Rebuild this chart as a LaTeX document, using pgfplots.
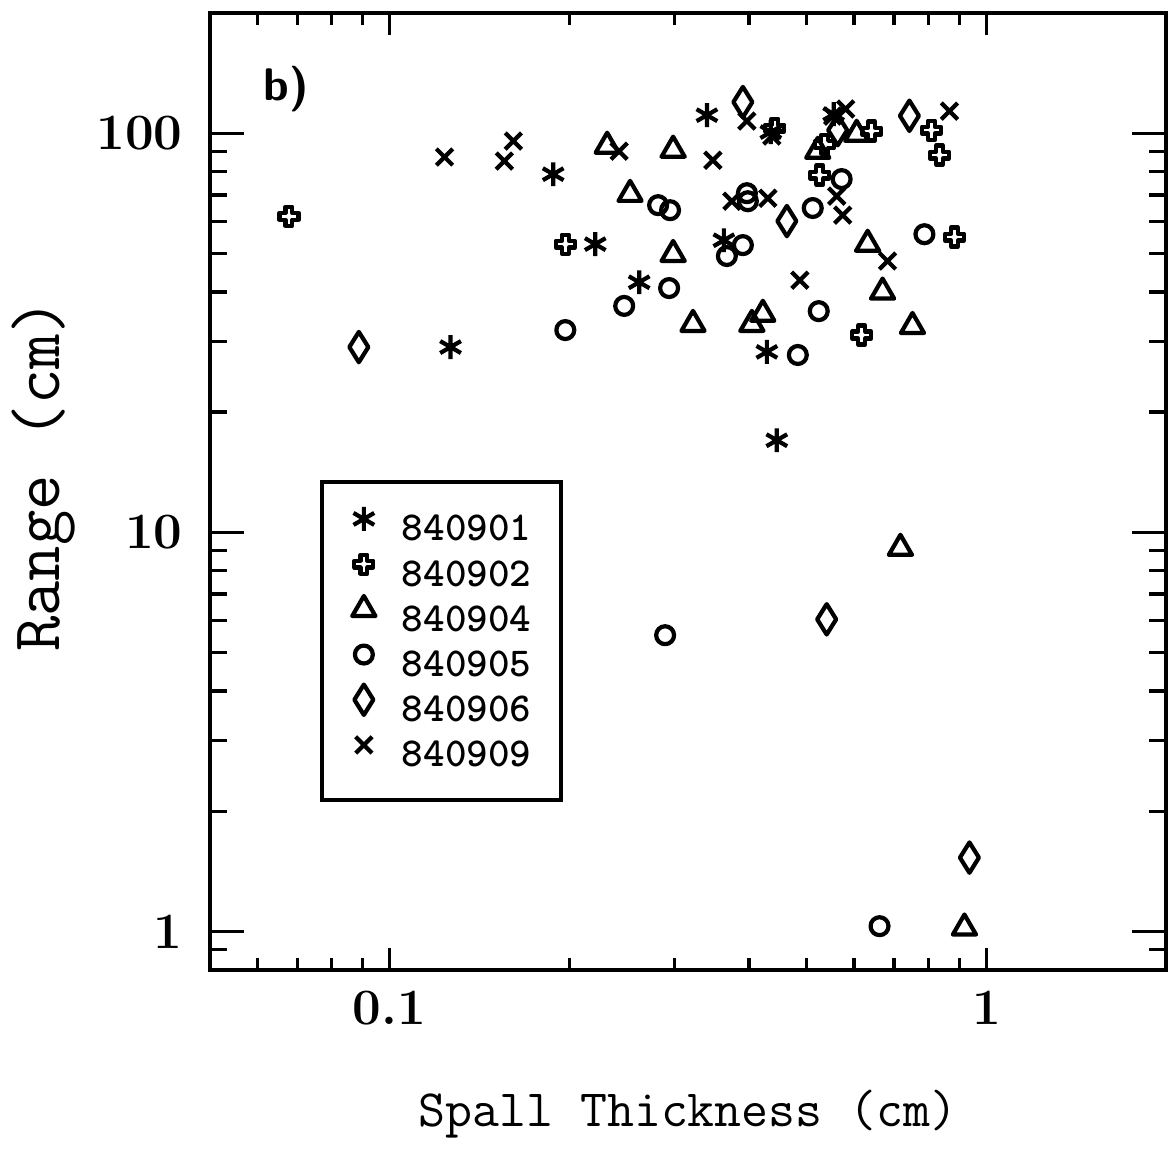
\documentclass[border=0pt]{standalone}
\usepackage{pgfplots}
\pgfplotsset{compat=1.18}

\pgfdeclareplotmark{pluso}{%
  \pgfpathmoveto{\pgfqpoint{0.36\pgfplotmarksize}{\pgfplotmarksize}}%
  \pgfpathlineto{\pgfqpoint{-0.36\pgfplotmarksize}{\pgfplotmarksize}}%
  \pgfpathlineto{\pgfqpoint{-0.36\pgfplotmarksize}{0.36\pgfplotmarksize}}%
  \pgfpathlineto{\pgfqpoint{-\pgfplotmarksize}{0.36\pgfplotmarksize}}%
  \pgfpathlineto{\pgfqpoint{-\pgfplotmarksize}{-0.36\pgfplotmarksize}}%
  \pgfpathlineto{\pgfqpoint{-0.36\pgfplotmarksize}{-0.36\pgfplotmarksize}}%
  \pgfpathlineto{\pgfqpoint{-0.36\pgfplotmarksize}{-\pgfplotmarksize}}%
  \pgfpathlineto{\pgfqpoint{0.36\pgfplotmarksize}{-\pgfplotmarksize}}%
  \pgfpathlineto{\pgfqpoint{0.36\pgfplotmarksize}{-0.36\pgfplotmarksize}}%
  \pgfpathlineto{\pgfqpoint{\pgfplotmarksize}{-0.36\pgfplotmarksize}}%
  \pgfpathlineto{\pgfqpoint{\pgfplotmarksize}{0.36\pgfplotmarksize}}%
  \pgfpathlineto{\pgfqpoint{0.36\pgfplotmarksize}{0.36\pgfplotmarksize}}%
  \pgfpathclose
  \pgfusepathqstroke}
\pgfdeclareplotmark{tdiamond}{%
  \pgfpathmoveto{\pgfqpoint{0pt}{1.6\pgfplotmarksize}}%
  \pgfpathlineto{\pgfqpoint{\pgfplotmarksize}{0pt}}%
  \pgfpathlineto{\pgfqpoint{0pt}{-1.6\pgfplotmarksize}}%
  \pgfpathlineto{\pgfqpoint{-\pgfplotmarksize}{0pt}}%
  \pgfpathclose
  \pgfusepathqstroke}

\pgfplotsset{mylegimg/.style={legend image code/.code={%
  \draw[overlay,mark repeat=2,mark phase=2,##1] plot coordinates {(0cm,0.1cm) (0.12cm,0.1cm) (0.24cm,0.1cm)};
  \path[draw=none,fill=none] (0cm,0cm) rectangle (0.24cm,0.2cm);}}}

\begin{document}
\begin{tikzpicture}
\begin{axis}[
  scale only axis, width=9.56cm, height=9.57cm,
  xmode=log, ymode=log,
  xmin=0.05, xmax=2, ymin=0.8, ymax=200,
  xtick={0.1,1}, xticklabels={0.1,1},
  ytick={1,10,100}, yticklabels={1,10,100},
  minor xtick={0.06,0.07,0.08,0.09,0.2,0.3,0.4,0.5,0.6,0.7,0.8,0.9},
  minor ytick={0.9,2,3,4,5,6,7,8,9,20,30,40,50,60,70,80,90},
  axis line style={line width=1pt},
  every tick/.style={black, line width=0.9pt},
  xtick style={/pgfplots/major tick length=0.22cm,/pgfplots/minor tick length=0.12cm},
  ytick style={/pgfplots/major tick length=0.34cm,/pgfplots/minor tick length=0.17cm},
  tick label style={font=\bfseries\fontsize{14.5}{16}\selectfont},
  xticklabel style={yshift=-0.09cm},
  yticklabel style={xshift=-0.15cm},
  xlabel={Spall Thickness (cm)}, ylabel={Range (cm)},
  xlabel style={at={(axis description cs:0.5,-0.164)}, anchor=base, font=\ttfamily\fontsize{14.9}{18}\selectfont},
  ylabel style={at={(axis description cs:-0.157,0.517)}, anchor=base, font=\ttfamily\fontsize{19.5}{22}\selectfont},
  clip=false,
  mylegimg,
  legend cell align=left,
  legend style={at={(0.115,0.512)}, anchor=north west, draw=black, line width=1.1pt,
    inner xsep=0.3cm, inner ysep=0.27cm, row sep=0.072cm,
    /tikz/every odd column/.append style={column sep=0.26cm},
    font=\ttfamily\bfseries\fontsize{11.7}{13}\selectfont,
    nodes={inner sep=0pt, text height=0.3cm, text depth=0.06cm}},
  mark options={line join=round},
]
% 840901
\addplot[black, only marks, mark=asterisk, mark size=3.4pt, line width=1.2pt, mylegimg] coordinates {
(0.3402,110.9) (0.1880,78.9) (0.2211,52.7) (0.1265,29.1) (0.2619,42.3)
(0.3632,53.9) (0.4287,28.3) (0.4455,17.0) (0.5547,111.6) (0.4353,100.6)
};
\addlegendentry{840901}
% 840902
\addplot[black, only marks, mark=pluso, mark size=2.7pt, line width=1.2pt, mylegimg] coordinates {
(0.0678,61.9) (0.1970,52.7) (0.4421,102.9) (0.5359,93.8) (0.5257,78.5)
(0.6422,101.2) (0.8091,101.7) (0.8344,88.1) (0.8841,54.9) (0.6180,31.2)
};
\addlegendentry{840902}
% 840904
\addplot[black, only marks, mark=triangle, mark size=3.8pt, line width=1.2pt, mylegimg] coordinates {
(0.2315,92.8) (0.2986,90.7) (0.2529,70.3) (0.2986,49.7) (0.3224,33.2)
(0.4046,33.2) (0.4221,35.2) (0.5217,90.1) (0.6062,99.4) (0.6324,52.7)
(0.6700,40.0) (0.7519,32.8) (0.7178,9.12) (0.9188,1.02)
};
\addlegendentry{840904}
% 840905
\addplot[black, only marks, mark=o, mark size=2.55pt, line width=1.2pt, mylegimg] coordinates {
(0.1970,32.1) (0.2472,36.9) (0.2940,40.9) (0.2818,66.0) (0.2951,64.1)
(0.3969,70.7) (0.3984,67.5) (0.3908,52.4) (0.3674,49.2) (0.5117,64.9)
(0.5721,76.7) (0.5237,35.8) (0.4831,27.8) (0.7874,55.8) (0.2895,5.52)
(0.6622,1.03)
};
\addlegendentry{840905}
% 840906
\addplot[black, only marks, mark=tdiamond, mark size=2.7pt, line width=1.2pt, mylegimg] coordinates {
(0.0888,29.1) (0.3908,119.6) (0.5634,101.7) (0.4631,60.2) (0.7431,110.5)
(0.5400,6.05) (0.9367,1.53)
};
\addlegendentry{840906}
% 840909
\addplot[black, only marks, mark=x, mark size=3.3pt, line width=1.2pt, mylegimg] coordinates {
(0.1236,87.1) (0.1612,95.5) (0.1557,85.1) (0.2424,90.1) (0.3481,85.5)
(0.3969,107.2) (0.4370,98.3) (0.3746,67.5) (0.4303,68.7) (0.5810,114.9)
(0.5527,110.3) (0.5613,69.5) (0.5744,62.3) (0.4869,42.8) (0.6829,47.8)
(0.8672,113.5)
};
\addlegendentry{840909}

\node[anchor=base west, inner sep=0pt, font=\sffamily\bfseries\fontsize{13}{15}\selectfont] at (rel axis cs:0.0554,0.909) {b)};
\coordinate (bbsw) at (rel axis cs:0,0);
\coordinate (bbne) at (rel axis cs:1,1);
\end{axis}
\path ([shift={(-2.10cm,-1.73cm)}]bbsw) rectangle ([shift={(0.03cm,0.13cm)}]bbne);
\end{tikzpicture}
\end{document}
